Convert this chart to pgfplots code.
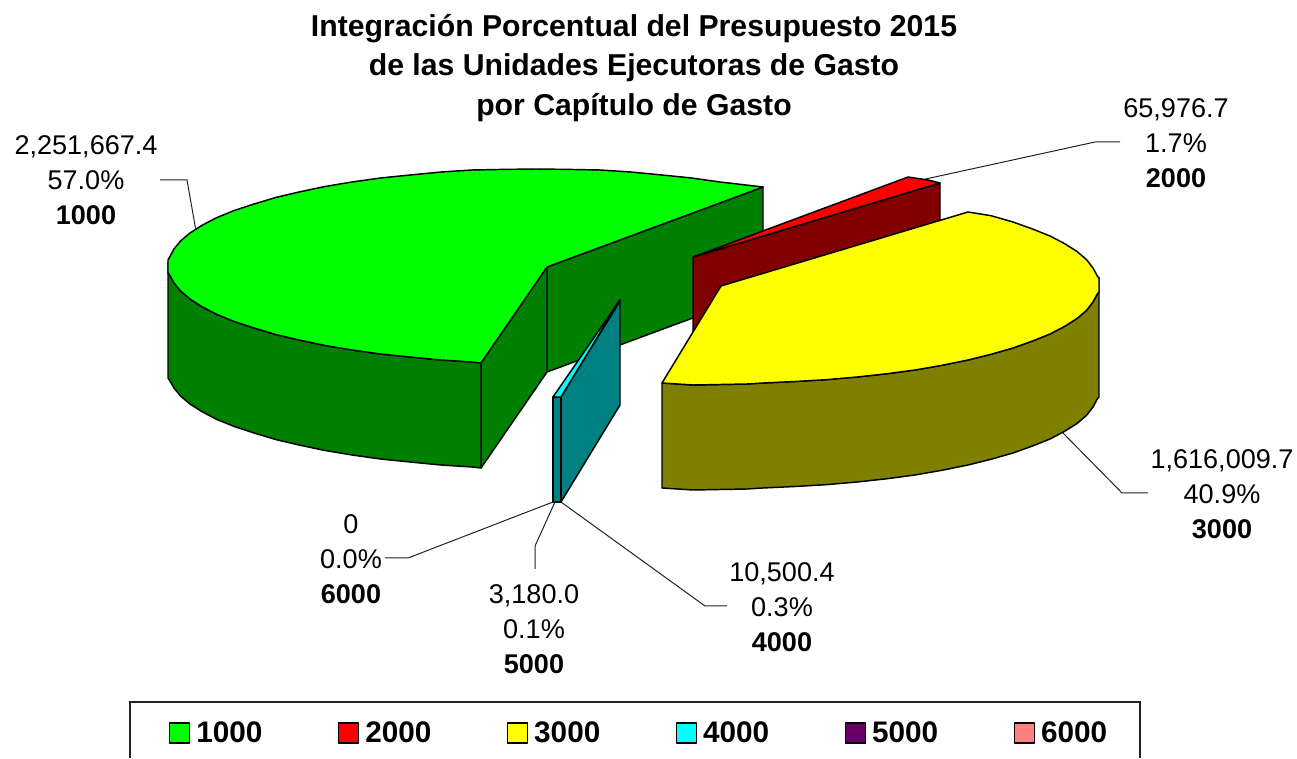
\documentclass[border=0pt]{standalone}
\usepackage{pgfplots}
\pgfplotsset{compat=1.18}
\usepackage{fontspec}
\setmainfont{Liberation Sans}
\definecolor{gA}{HTML}{00FF00}\definecolor{gB}{HTML}{008000}
\definecolor{rA}{HTML}{FF0000}\definecolor{rB}{HTML}{800000}
\definecolor{yA}{HTML}{FFFF00}\definecolor{yB}{HTML}{808000}
\definecolor{cA}{HTML}{00FFFF}\definecolor{cB}{HTML}{008080}
\definecolor{pA}{HTML}{660066}\definecolor{oA}{HTML}{FF8080}
\definecolor{ld}{HTML}{222222}
\tikzset{
  face/.style={draw=black,line width=1.1pt,line join=round},
  lead/.style={draw=ld,line width=0.75pt},
  lab/.style={font=\fontsize{20.3}{26.25}\selectfont,align=center,inner sep=0pt,anchor=center},
}
\begin{document}
\begin{tikzpicture}
\begin{axis}[
  scale only axis,width=972.75pt,height=568.5pt,
  xmin=0,xmax=1297,ymin=0,ymax=758,y dir=reverse,
  axis lines=none,enlargelimits=false,clip=false,
  area legend,
  legend columns=6,
  legend image code/.code={\draw[#1,line width=0.9pt] (0pt,-7.5pt) rectangle (15pt,7.5pt);},
  legend style={draw=none,fill=none,at={(0.1305,0.033)},anchor=west,inner sep=0pt,outer sep=0pt,
    font=\fontsize{22.3}{26}\selectfont\bfseries,
    /tikz/every odd column/.append style={column sep=2.4pt},
    /tikz/every even column/.append style={column sep=54.8pt}},
]
\path (axis cs:0,0) rectangle (axis cs:1297,758);
% leader lines
\addplot[lead,forget plot] coordinates {(160,180)(187,180)(196,231)};
\addplot[lead,forget plot] coordinates {(1120,142)(1095,142)(912,182)};
\addplot[lead,forget plot] coordinates {(1063,433)(1122,493)(1148,493)};
\addplot[lead,forget plot] coordinates {(561,502)(705,606)(727,606)};
\addplot[lead,forget plot] coordinates {(555,502)(535,546)(535,569)};
\addplot[lead,forget plot] coordinates {(553,502)(408,558)(385,558)};
% 1000 sides
\addplot[face,fill=gB,forget plot] coordinates {(547,267)(763,187)(763,292)(547,372)} -- cycle;
\addplot[face,fill=gB,forget plot] coordinates {(481,363)(547,267)(547,372)(481,468)} -- cycle;
\addplot[face,fill=gB,forget plot] coordinates {(168,262)(168,273)(169.4,274.5)(174,283)(180.5,291)(190,299)(202.5,307)(217,314.5)(234.5,321.6)(254,328)(276,334.6)(299,340)(325,345.5)(352,350)(380.5,354)(410,357)(441,360)(472,362)(481,363)(481,468)(472,467)(441,465)(410,462)(380.5,459)(352,455)(325,450.5)(299,445)(276,439.6)(254,433)(234.5,426.6)(217,419.5)(202.5,412)(190,404)(180.5,396)(174,388)(169.4,380)(168,378)} -- cycle;
% 1000 top
\addplot[face,fill=gA] coordinates {(763,187)(720,182)(691.5,178)(662,175)(631,172)(600,170)(568,169.4)(536,169)(504,169.4)(472,170)(441,172)(410,175)(380.5,178)(352,182)(325,186.5)(299,192)(276,197.4)(254,204)(234.5,210.4)(217,217.5)(202.5,225)(190,233)(180.5,241)(174,249)(169.4,257.5)(168,260)(168,273)(169.4,274.5)(174,283)(180.5,291)(190,299)(202.5,307)(217,314.5)(234.5,321.6)(254,328)(276,334.6)(299,340)(325,345.5)(352,350)(380.5,354)(410,357)(441,360)(472,362)(481,363)(547,267)} -- cycle;
\addlegendentry{1000}
% 2000
\addplot[face,fill=rB,forget plot] coordinates {(693,257)(940,183)(940,288)(693,362)} -- cycle;
\addplot[face,fill=rA] coordinates {(693,257)(908,177)(928,180)(940,183)} -- cycle;
\addlegendentry{2000}
% 3000
\addplot[face,fill=yB,forget plot] coordinates {(1099,278)(1099,292)(1097.6,293.5)(1093,302)(1086.5,310.4)(1077,318.5)(1064.5,326.4)(1050,334)(1032.5,341)(1013,348)(991,354.3)(968,360)(942,365.3)(915,370)(886.5,373.8)(857,377)(826,379.7)(795,381.5)(763,383)(747,384)(693,385)(662,383)(662,488)(693,490)(747,489)(763,488)(795,486.5)(826,484.7)(857,482)(886.5,478.8)(915,475)(942,470.3)(968,465)(991,459.3)(1013,453)(1032.5,446)(1050,439)(1064.5,431.4)(1077,423.5)(1086.5,415.4)(1093,407)(1097.6,398.5)(1099,397)} -- cycle;
\addplot[face,fill=yA] coordinates {(721,286)(968,212)(991,215.7)(1013,222)(1032.5,229)(1050,236)(1064.5,243.6)(1077,251.5)(1086.5,259.6)(1093,268)(1097.6,276.5)(1099,278)(1099,292)(1097.6,293.5)(1093,302)(1086.5,310.4)(1077,318.5)(1064.5,326.4)(1050,334)(1032.5,341)(1013,348)(991,354.3)(968,360)(942,365.3)(915,370)(886.5,373.8)(857,377)(826,379.7)(795,381.5)(763,383)(747,384)(693,385)(662,383)} -- cycle;
\addlegendentry{3000}
% 4000
\addplot[face,fill=cB,forget plot] coordinates {(561,397)(620,301)(620,405)(561,502)} -- cycle;
\addplot[face,fill=cB,forget plot] coordinates {(553,397)(561,397)(561,502)(553,502)} -- cycle;
\addplot[face,fill=cA] coordinates {(553,397)(620,300)(561,397)} -- cycle;
\addlegendentry{4000}
% 5000
\addplot[face,fill=pA] coordinates {(610,315)(620,300)(619,302)} -- cycle;
\addlegendentry{5000}
% 6000
\addplot[face,fill=oA] coordinates {(620,300)(620,300)(620,300)} -- cycle;
\addlegendentry{6000}
% legend frame
\addplot[draw=ld,line width=1pt,forget plot] coordinates {(130,758)(130,702)(1140,702)(1140,758)};
% title
\node[font=\fontsize{22.65}{29.5}\selectfont\bfseries,align=center,inner sep=0pt,anchor=center] at (axis cs:634,68)
 {Integración Porcentual del Presupuesto 2015\\de las Unidades Ejecutoras de Gasto\\por Capítulo de Gasto};
% data labels
\node[lab] at (axis cs:86,180) {2,251,667.4\\57.0\%\\\textbf{1000}};
\node[lab] at (axis cs:1176,143) {65,976.7\\1.7\%\\\textbf{2000}};
\node[lab] at (axis cs:1222,494) {1,616,009.7\\40.9\%\\\textbf{3000}};
\node[lab] at (axis cs:782,607) {10,500.4\\0.3\%\\\textbf{4000}};
\node[lab] at (axis cs:534,629) {3,180.0\\0.1\%\\\textbf{5000}};
\node[lab] at (axis cs:351,559) {0\\0.0\%\\\textbf{6000}};
\end{axis}
\end{tikzpicture}
\end{document}
